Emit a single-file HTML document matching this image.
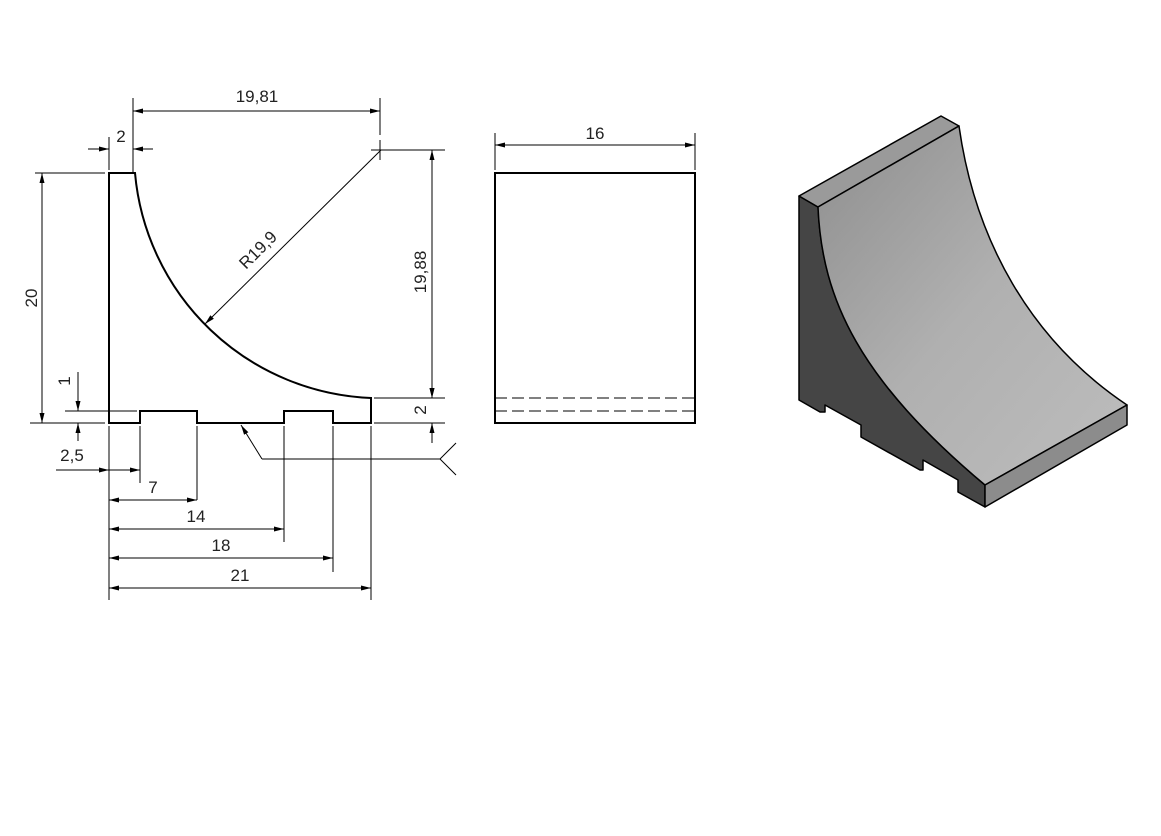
<!DOCTYPE html>
<html><head><style>
html,body{margin:0;padding:0;background:#fff;}
svg{display:block;}
text{font-family:"Liberation Sans",sans-serif;font-size:17px;fill:#222;}
</style></head><body>
<svg width="1161" height="836" viewBox="0 0 1161 836" xmlns="http://www.w3.org/2000/svg">
<defs>
<marker id="a" viewBox="0 0 10 6" refX="10" refY="3" markerWidth="10" markerHeight="6" markerUnits="userSpaceOnUse" orient="auto-start-reverse"><path d="M0,0.5 L10,3 L0,5.5 Z" fill="#000"/></marker>
<linearGradient id="g" x1="0" y1="0" x2="1" y2="1"><stop offset="0" stop-color="#8e8e8e"/><stop offset="0.5" stop-color="#b0b0b0"/><stop offset="1" stop-color="#bdbdbd"/></linearGradient>
</defs>
<g stroke="#000" fill="none">
<!-- outline left view -->
<path d="M109,423 L109,173 L135,173 A247,247 0 0 0 371,398 L371,423 L333,423 L333,411 L284,411 L284,423 L197,423 L197,411 L140,411 L140,423 Z" stroke-width="2"/>
<g stroke-width="1">
<!-- extension lines -->
<line x1="133" y1="98" x2="133" y2="172"/>
<line x1="380" y1="98" x2="380" y2="135"/>
<line x1="380" y1="140" x2="380" y2="160"/>
<line x1="109" y1="137" x2="109" y2="170"/>
<line x1="371" y1="150" x2="445" y2="150"/>
<line x1="35" y1="173" x2="105" y2="173"/>
<line x1="30" y1="423" x2="105" y2="423"/>
<line x1="65" y1="411" x2="137" y2="411"/>
<line x1="374" y1="398" x2="445" y2="398"/>
<line x1="374" y1="423" x2="445" y2="423"/>
<line x1="109" y1="426" x2="109" y2="600"/>
<line x1="140" y1="426" x2="140" y2="483"/>
<line x1="197" y1="426" x2="197" y2="500"/>
<line x1="284" y1="426" x2="284" y2="542"/>
<line x1="333" y1="426" x2="333" y2="572"/>
<line x1="371" y1="426" x2="371" y2="600"/>
<!-- dim lines -->
<line x1="133" y1="111" x2="380" y2="111" marker-start="url(#a)" marker-end="url(#a)"/>
<line x1="88" y1="149" x2="109" y2="149" marker-end="url(#a)"/>
<line x1="153" y1="149" x2="133" y2="149" marker-end="url(#a)"/>
<line x1="42" y1="173" x2="42" y2="423" marker-start="url(#a)" marker-end="url(#a)"/>
<line x1="78" y1="372" x2="78" y2="411" marker-end="url(#a)"/>
<line x1="78" y1="441" x2="78" y2="423" marker-end="url(#a)"/>
<line x1="432" y1="150" x2="432" y2="398" marker-start="url(#a)" marker-end="url(#a)"/>
<line x1="432" y1="383" x2="432" y2="398" marker-end="url(#a)"/>
<line x1="432" y1="443" x2="432" y2="423" marker-end="url(#a)"/>
<line x1="56" y1="470" x2="109" y2="470" marker-end="url(#a)"/>
<line x1="109" y1="470" x2="140" y2="470" marker-end="url(#a)"/>
<line x1="109" y1="500" x2="197" y2="500" marker-start="url(#a)" marker-end="url(#a)"/>
<line x1="109" y1="529" x2="284" y2="529" marker-start="url(#a)" marker-end="url(#a)"/>
<line x1="109" y1="558" x2="333" y2="558" marker-start="url(#a)" marker-end="url(#a)"/>
<line x1="109" y1="588" x2="371" y2="588" marker-start="url(#a)" marker-end="url(#a)"/>
<line x1="381" y1="150" x2="205" y2="324" marker-end="url(#a)"/>
<!-- surface symbol -->
<polyline points="262,459 440,459"/>
<line x1="262" y1="459" x2="241" y2="425" marker-end="url(#a)"/>
<polyline points="456,443 440,459 456,475"/>
<!-- middle view -->
<rect x="495" y="173" width="200" height="250" stroke-width="2"/>
<line x1="495" y1="398" x2="695" y2="398" stroke-dasharray="12,5"/>
<line x1="495" y1="411" x2="695" y2="411" stroke-dasharray="12,5"/>
<line x1="495" y1="133" x2="495" y2="170"/>
<line x1="695" y1="133" x2="695" y2="170"/>
<line x1="495" y1="145" x2="695" y2="145" marker-start="url(#a)" marker-end="url(#a)"/>
</g>
<!-- 3D view -->
<g stroke-width="1.5" stroke-linejoin="round">
<path d="M799,196 L818,207 C822,300 860,380 985,485 L985,507 L958,492 L958,480 L923,460 L923,470 L920,470 L861,437 L861,425 L825,405 L825,412 L820,412 L799,400 Z" fill="#454545"/>
<path d="M799,196 L941,116 L959,126 L818,207 Z" fill="#9a9a9a"/>
<path d="M818,207 L959,126 C975,240 1030,340 1127,405 L985,485 C860,380 822,300 818,207 Z" fill="url(#g)"/>
<path d="M985,485 L1127,405 L1127,425 L985,507 Z" fill="#8c8c8c"/>
</g>
</g>
<text x="257" y="102" text-anchor="middle">19,81</text>
<text x="121" y="142" text-anchor="middle">2</text>
<text x="595" y="139" text-anchor="middle">16</text>
<text transform="translate(37,298) rotate(-90)" text-anchor="middle">20</text>
<text transform="translate(70,381) rotate(-90)" text-anchor="middle">1</text>
<text transform="translate(426,272) rotate(-90)" text-anchor="middle">19,88</text>
<text transform="translate(426,410) rotate(-90)" text-anchor="middle">2</text>
<text transform="translate(262,254) rotate(-45)" text-anchor="middle">R19,9</text>
<text x="72" y="461" text-anchor="middle">2,5</text>
<text x="153" y="493" text-anchor="middle">7</text>
<text x="196" y="522" text-anchor="middle">14</text>
<text x="221" y="551" text-anchor="middle">18</text>
<text x="240" y="581" text-anchor="middle">21</text>
</svg>
</body></html>
